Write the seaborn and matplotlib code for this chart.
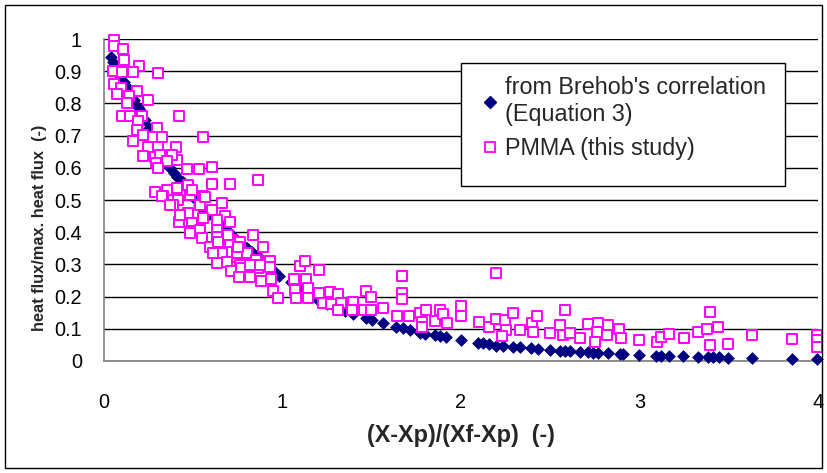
import numpy as np
import pandas as pd
import seaborn as sns
import matplotlib.pyplot as plt
from matplotlib.lines import Line2D
from matplotlib.patches import Rectangle

# Brehob's correlation
brehob_x = [0.04, 0.05, 0.07, 0.09, 0.11, 0.13, 0.15, 0.17, 0.19, 0.21, 0.23, 0.25,
            0.27, 0.29, 0.31, 0.33, 0.35, 0.37, 0.39, 0.41, 0.44, 0.47, 0.50, 0.53,
            0.56, 0.59, 0.62, 0.65, 0.68, 0.71, 0.74, 0.77, 0.80, 0.83, 0.86, 0.89,
            0.92, 0.95, 0.98, 1.05, 1.10, 1.15, 1.20, 1.25, 1.30, 1.35,
            1.395, 1.47, 1.504, 1.563, 1.638, 1.675, 1.716, 1.772, 1.796, 1.852,
            1.88, 1.918, 2.002, 2.095, 2.123, 2.156, 2.198, 2.235, 2.29, 2.328,
            2.393, 2.43, 2.496, 2.552, 2.58, 2.608, 2.664, 2.71, 2.738, 2.766,
            2.822, 2.888, 2.906, 2.999, 3.093, 3.121, 3.167, 3.246, 3.326, 3.382,
            3.41, 3.443, 3.497, 3.628, 3.857, 3.997]
brehob_y = [0.945, 0.93, 0.905, 0.885, 0.865, 0.85, 0.83, 0.81, 0.79, 0.775, 0.75, 0.725,
            0.70, 0.68, 0.655, 0.635, 0.615, 0.60, 0.583, 0.572, 0.555, 0.535, 0.51, 0.485,
            0.465, 0.455, 0.445, 0.43, 0.41, 0.395, 0.38, 0.365, 0.35, 0.337, 0.325, 0.31,
            0.295, 0.28, 0.265, 0.245, 0.23, 0.205, 0.19, 0.178, 0.165, 0.155,
            0.145, 0.133, 0.127, 0.118, 0.107, 0.102, 0.096, 0.086, 0.084, 0.081,
            0.078, 0.076, 0.065, 0.057, 0.055, 0.053, 0.048, 0.047, 0.045, 0.043,
            0.039, 0.037, 0.034, 0.032, 0.031, 0.031, 0.029, 0.027, 0.026, 0.026,
            0.024, 0.022, 0.022, 0.019, 0.017, 0.017, 0.016, 0.014, 0.012, 0.011,
            0.011, 0.011, 0.010, 0.008, 0.006, 0.005]

# PMMA measurements (this study)
pmma_x = [0.058, 0.056, 0.108, 0.114, 0.194, 0.049, 0.099, 0.164, 0.304, 0.056, 0.093, 0.071,
          0.183, 0.142, 0.245, 0.130, 0.099, 0.145, 0.211, 0.421, 0.192, 0.183, 0.295, 0.220,
          0.552, 0.164, 0.276, 0.323, 0.245, 0.304, 0.403, 0.220, 0.285, 0.351, 0.407,
          0.313, 0.379, 0.291, 0.351, 0.304, 0.463, 0.532, 0.603, 0.864, 0.472, 0.603, 0.705,
          0.285, 0.351, 0.407, 0.332, 0.416, 0.481, 0.556, 0.388, 0.537, 0.659, 0.472, 0.603,
          0.677, 0.421, 0.491, 0.556, 0.705, 0.631, 0.485, 0.537, 0.832, 0.547, 0.631, 0.715,
          0.593, 0.659, 0.743, 0.705, 0.761, 0.892, 0.799, 0.631, 0.715, 0.761, 0.864, 0.929,
          0.864, 0.929, 0.323, 0.491, 0.565, 0.369, 0.425, 0.481, 0.631, 0.696, 0.640, 0.612,
          0.687, 0.752, 0.854, 0.873, 0.711, 0.767, 0.757, 0.817, 0.882, 0.938, 0.944, 0.976,
          0.817, 1.097, 1.128, 1.202, 1.064, 1.132, 1.069, 1.076, 1.143, 1.143, 1.202, 1.227,
          1.265, 1.311, 1.274, 1.330, 1.311, 1.395, 1.390, 1.468, 1.498, 1.455, 1.498, 1.563,
          1.669, 1.669, 1.669, 1.641, 1.710, 1.772, 1.802, 1.783, 1.783, 1.852, 1.880, 1.901,
          1.920, 2.002, 2.002, 2.197, 2.100, 2.156, 2.197, 2.247, 2.250, 2.231, 2.290, 2.328,
          2.400, 2.428, 2.406, 2.498, 2.554, 2.580, 2.572, 2.610, 2.666, 2.710, 2.766, 2.748,
          2.762, 2.822, 2.820, 2.883, 2.897, 2.998, 3.097, 3.121, 3.167, 3.247, 3.326, 3.380,
          3.397, 3.440, 3.397, 3.497, 3.628, 3.854, 3.997, 3.997, 3.997]
pmma_y = [0.998, 0.979, 0.969, 0.936, 0.915, 0.901, 0.896, 0.896, 0.894, 0.861, 0.848, 0.830,
          0.837, 0.822, 0.811, 0.801, 0.762, 0.762, 0.762, 0.762, 0.744, 0.718, 0.723, 0.703,
          0.697, 0.684, 0.697, 0.695, 0.664, 0.664, 0.664, 0.637, 0.635, 0.637, 0.625,
          0.640, 0.640, 0.614, 0.620, 0.599, 0.596, 0.596, 0.604, 0.563, 0.547, 0.549, 0.549,
          0.526, 0.531, 0.537, 0.511, 0.500, 0.516, 0.511, 0.485, 0.485, 0.490, 0.459, 0.469,
          0.451, 0.433, 0.428, 0.444, 0.433, 0.415, 0.405, 0.407, 0.392, 0.381, 0.386, 0.376,
          0.353, 0.335, 0.335, 0.371, 0.371, 0.353, 0.335, 0.304, 0.293, 0.298, 0.312, 0.312,
          0.288, 0.293, 0.513, 0.531, 0.509, 0.485, 0.454, 0.397, 0.438, 0.392, 0.371, 0.335,
          0.309, 0.355, 0.314, 0.298, 0.278, 0.288, 0.262, 0.262, 0.249, 0.255, 0.217, 0.197,
          0.298, 0.294, 0.312, 0.284, 0.254, 0.256, 0.221, 0.196, 0.228, 0.196, 0.210, 0.181,
          0.213, 0.208, 0.178, 0.180, 0.159, 0.183, 0.159, 0.216, 0.198, 0.159, 0.159, 0.166,
          0.264, 0.210, 0.193, 0.140, 0.140, 0.149, 0.159, 0.120, 0.105, 0.124, 0.159, 0.145,
          0.118, 0.171, 0.140, 0.274, 0.120, 0.106, 0.131, 0.126, 0.096, 0.078, 0.148, 0.096,
          0.117, 0.140, 0.091, 0.088, 0.112, 0.159, 0.081, 0.087, 0.071, 0.114, 0.117, 0.060,
          0.091, 0.112, 0.080, 0.100, 0.071, 0.065, 0.060, 0.076, 0.083, 0.071, 0.090, 0.099,
          0.151, 0.105, 0.050, 0.053, 0.081, 0.068, 0.081, 0.065, 0.044]

brehob = pd.DataFrame({'x': brehob_x, 'y': brehob_y})
pmma = pd.DataFrame({'x': pmma_x, 'y': pmma_y})

sns.set_style('white')
plt.rcParams['font.family'] = ['Liberation Sans', 'DejaVu Sans']

fig = plt.figure(figsize=(8.27, 4.73), dpi=100)
ax = fig.add_axes([104/827, 1-361/473, 714/827, 322/473])

navy = '#000080'
pink = '#FF00FF'

sns.scatterplot(data=brehob, x='x', y='y', marker='D', s=36, color=navy,
                edgecolor=navy, linewidth=0.5, ax=ax, zorder=3, clip_on=False)
sns.scatterplot(data=pmma, x='x', y='y', marker='s', s=52, color='white',
                edgecolor=pink, linewidth=1.4, ax=ax, zorder=4, clip_on=False)

ax.set_xlim(0, 4)
ax.set_ylim(0, 1)
ax.set_xticks([0, 1, 2, 3, 4])
ax.set_yticks(np.arange(0, 1.01, 0.1))
ax.set_xticklabels(['0', '1', '2', '3', '4'])
ax.set_yticklabels(['0', '0.1', '0.2', '0.3', '0.4', '0.5', '0.6', '0.7', '0.8', '0.9', '1'])
ax.yaxis.grid(True, color='black', linewidth=1.0)
ax.xaxis.grid(False)
ax.set_axisbelow(True)
for side in ['top', 'right']:
    ax.spines[side].set_visible(False)
for side in ['left', 'bottom']:
    ax.spines[side].set_color('#808080')
    ax.spines[side].set_linewidth(1.2)
ax.tick_params(axis='both', direction='out', length=5, width=1, labelsize=14.3,
               colors='#808080', labelcolor='black')
ax.tick_params(axis='x', pad=18)
ax.tick_params(axis='y', pad=11)
ax.set_xlabel('')
ax.set_ylabel('')

fig.text(461/827, 1-435/473, '(X-Xp)/(Xf-Xp)  (-)', ha='center', va='center',
         fontsize=16.8, fontweight='bold')
fig.text(40/827, 1-228/473, 'heat flux/max. heat flux  (-)', ha='center', va='center',
         rotation=90, fontsize=11.8, fontweight='bold')

# legend box drawn by hand (Excel style, extra room at the bottom)
fig.patches.append(Rectangle((461/827, 1-186/473), 324/827, 123/473,
                             transform=fig.transFigure, facecolor='white',
                             edgecolor='black', linewidth=1.0, zorder=5))
handles = [Line2D([], [], linestyle='none', marker='D', markersize=6.5,
                  color=navy, markeredgecolor=navy),
           Line2D([], [], linestyle='none', marker='s', markersize=7,
                  markerfacecolor='white', markeredgecolor=pink, markeredgewidth=1.3)]
leg = fig.legend(handles, ["from Brehob's correlation\n(Equation 3)", 'PMMA (this study)'],
                 loc='upper left', bbox_to_anchor=(484/827, 1-76/473), borderaxespad=0,
                 fontsize=16.8, frameon=False, handlelength=0.5, handletextpad=0.4,
                 borderpad=0.0, labelspacing=0.5)
leg.set_zorder(6)

fig.patches.append(Rectangle((5/827, 5/473), 817/827, 463/473, transform=fig.transFigure,
                             fill=False, edgecolor='black', linewidth=1.0))

fig.savefig('out.png', dpi=100)
